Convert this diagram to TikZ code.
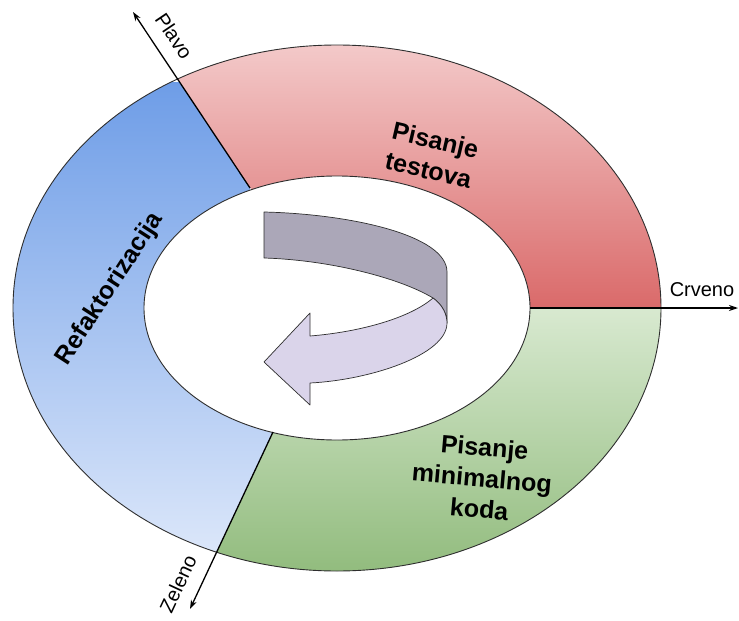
\documentclass[tikz,border=0pt]{standalone}
\usepackage{fontspec}
\setmainfont{Liberation Sans}
\usetikzlibrary{arrows.meta}

\definecolor{redtop}{HTML}{F3C9C9}
\definecolor{redbot}{HTML}{DA6A6A}
\definecolor{greentop}{HTML}{D8E9D0}
\definecolor{greenbot}{HTML}{92BC7E}
\definecolor{bluetop}{HTML}{6E9DE7}
\definecolor{bluebot}{HTML}{DCE7FA}
\definecolor{backarrow}{HTML}{ABA7B8}
\definecolor{frontarrow}{HTML}{DAD4EA}
\definecolor{rimline}{HTML}{2E2E2E}

\begin{document}
\begin{tikzpicture}[x=1pt,y=-1pt,
  sectorlabel/.style={font=\bfseries\fontsize{25}{31}\selectfont, align=center, inner sep=0pt},
  axislabel/.style={font=\fontsize{20}{23}\selectfont, inner sep=0pt},
  axisline/.style={line width=1.3pt, black, -{Stealth[length=9pt,width=6pt]}},
  rim/.style={draw=rimline, line width=0.9pt},
  twistpart/.style={draw=rimline, line width=0.7pt, line join=round}]
\useasboundingbox (0,0) rectangle (739,621);

\coordinate (c) at (337,308);
\coordinate (pin) at (250,188);
\coordinate (ptip) at (133,12);
\coordinate (pfar) at (-101,-340);
\coordinate (rin) at (530,308);
\coordinate (rtip) at (738,308);
\coordinate (gin) at (273,432);
\coordinate (gtip) at (190,609);
\coordinate (gfar) at (24,963);

% red sector
\begin{scope}
  \clip (c) ellipse [x radius=324pt, y radius=263pt];
  \clip (rin) -- (900,308) -- (900,-400) -- (pfar) -- (pin) -- cycle;
  \shade[top color=redtop, bottom color=redbot] (0,45) rectangle (700,308);
\end{scope}
% green sector
\begin{scope}
  \clip (c) ellipse [x radius=324pt, y radius=263pt];
  \clip (rin) -- (900,308) -- (900,1100) -- (gfar) -- (gin) -- cycle;
  \shade[top color=greentop, bottom color=greenbot] (0,308) rectangle (700,571);
\end{scope}
% blue sector
\begin{scope}
  \clip (c) ellipse [x radius=324pt, y radius=263pt];
  \clip (pin) -- (pfar) -- (-400,-340) -- (-400,963) -- (gfar) -- (gin) -- cycle;
  \shade[top color=bluetop, bottom color=bluebot] (0,82) rectangle (345,556);
\end{scope}

% rims
\draw[rim] (c) ellipse [x radius=324pt, y radius=263pt];
\draw[rim, fill=white] (c) ellipse [x radius=193pt, y radius=132pt];

% axis arrows (sector borders)
\draw[axisline] (pin) -- (ptip);
\draw[axisline] (rin) -- (rtip);
\draw[axisline] (gin) -- (gtip);

% labels
\node[sectorlabel, rotate=-13] (testova) at (432,155) {Pisanje\\testova};
\node[sectorlabel, rotate=57] (refak) at (110,289) {Refaktorizacija};
\node[sectorlabel, rotate=-5] (kod) at (482,478) {Pisanje\\minimalnog\\koda};
\node[axislabel] (crveno) at (702,290) {Crveno};
\node[axislabel, rotate=-56] (plavo) at (174,36) {Plavo};
\node[axislabel, rotate=65] (zeleno) at (178,584) {Zeleno};

% center curved arrow
\fill[backarrow, twistpart] (264,212) .. controls (350,214) and (447,235) .. (447,272)
  -- (447,323) .. controls (447,315) and (443,305) .. (433,298)
  .. controls (400,278) and (330,260) .. (264,258) -- cycle;
\fill[frontarrow, twistpart] (433,298) .. controls (443,305) and (447,315) .. (447,323)
  .. controls (447,355) and (370,380) .. (310,383)
  -- (310,405) -- (264,362) -- (310,313) -- (310,336)
  .. controls (360,332) and (410,318) .. (433,298) -- cycle;
\end{tikzpicture}
\end{document}
